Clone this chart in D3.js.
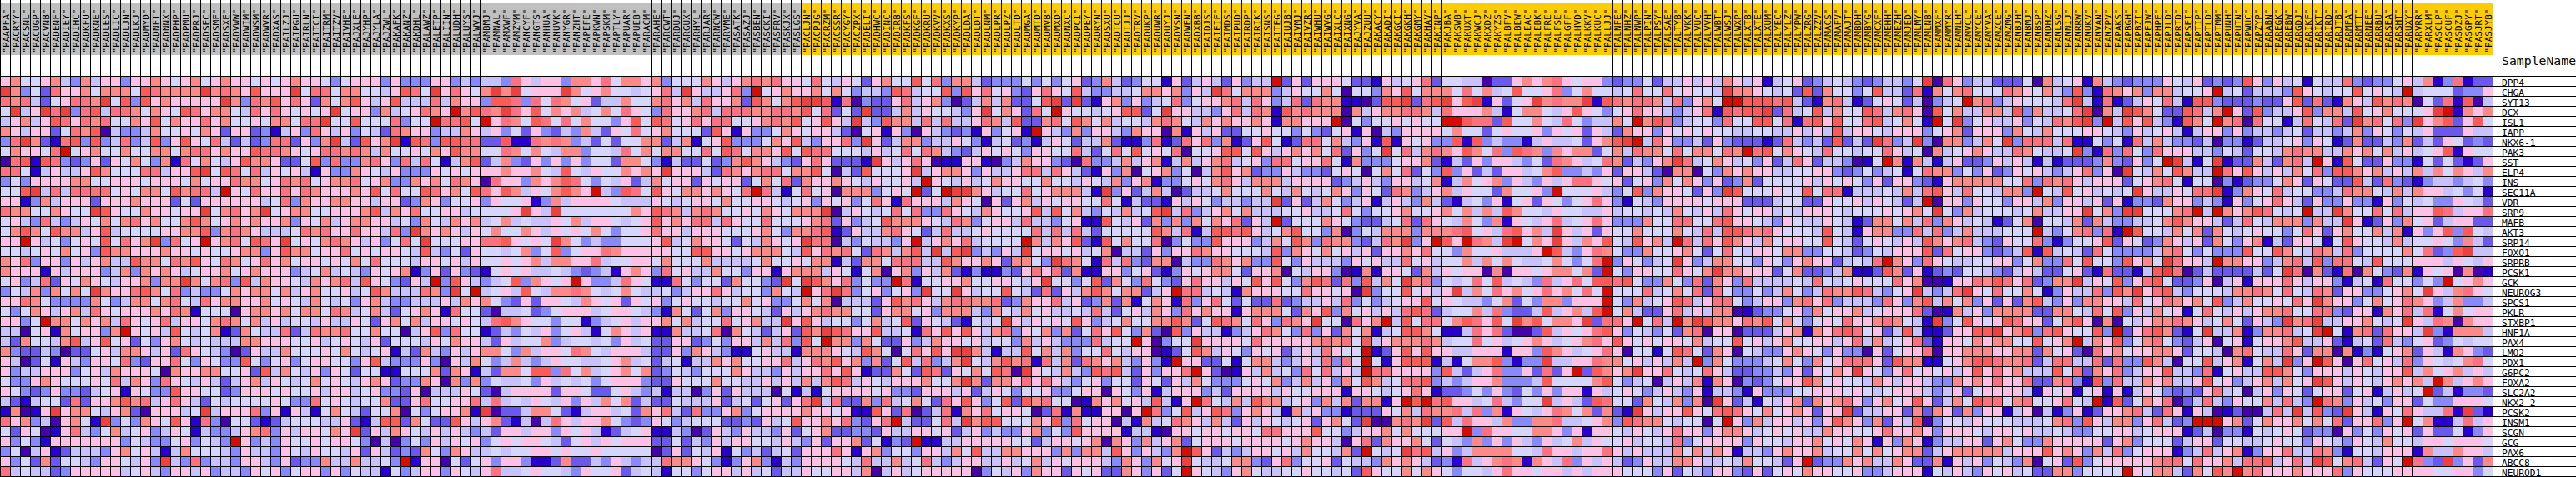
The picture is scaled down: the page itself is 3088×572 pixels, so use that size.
<!DOCTYPE html>
<html><head><meta charset="utf-8">
<style>html,body{margin:0;padding:0;background:#fff;overflow:hidden}svg{display:block}</style>
<script src="https://cdnjs.cloudflare.com/ajax/libs/d3/7.8.5/d3.min.js"></script>
</head><body><div id="chart"></div>
<script>
const controlSamples = "PAAPFA PACRYY PACSNL PACUGP PACVNB PADENF PADIEY PADIHC PADKFU PADKNE PADLES PADLIC PADLJN PADLKJ PADMYD PADNFT PADNNX PADPHP PADPMU PADPRJ PADSEC PADSMF PADSXE PADVWW PADWIM PADWSM PADWVR PADXAS PAILZJ PAIPGU PAIRLN PAITCI PAITRM PAITZV PAIVHE PAJXLE PAJYHP PAJYLA PAJZWL PAKAFK PAKANZ PAKDHL PALAWZ PALETP PALIIN PALUDH PALUYS PALWVJ PAMBMJ PAMNAL PAMXWF PAMZYM PANCYF PANGTS PANHUA PANUVK PANYGR PANZHT PAPEFE PAPKWN PAPSKM PAPTLY PAPUAR PAPUEB PARACM PARAHE PARCWT PARDUJ PARGUX PARHYL PARJAR PARNCW PARVME PASATK PASAZJ PASBEN PASCKI PASFRV PASKJX PASLGS".split(" ");
const caseSamples = "PACLJN PACPJG PACRZM PACSSR PACYGY PACZPX PADELI PADHWC PADINC PADIRB PADKFS PADKGF PADKRU PADKVV PADKXS PADKYP PADLDA PADLDT PADLNM PADLPR PADLPZ PADLTD PADMGA PADMTD PADMVB PADMXD PADNXC PADPCI PADPEY PADRYN PADSXU PADTCU PADTJJ PADTRV PADUKP PADUWR PADUYJ PADVSN PADWEN PADXBB PAIDJS PAIEIF PAIMDS PAIPUD PAIRDP PAIRIK PAISNS PAITEG PAIUJB PAIVMJ PAIVZR PAIWHU PAIWVG PAIXLC PAIXNG PAJYVA PAJZUU PAKACY PAKADI PAKGCI PAKGKH PAKGMY PAKHAV PAKINP PAKJBA PAKSWB PAKUXT PAKWCJ PAKXDZ PAKYZS PALBFV PALBEW PALEAC PALEBK PALFRE PALFSE PALGFF PALHVD PALKKV PALKUC PALLJJ PALNFE PALNHZ PALNWP PALPIN PALPSY PALSAE PALTYB PALVKK PALVUC PALVVH PALWBT PALWSJ PALWXP PALXTB PALXTE PALXUM PALYEC PALYLZ PALYPW PALZRG PALZZV PAMACS PAMAFV PAMAJT PAMBDH PAMBYG PAMCXF PAMEHH PAMEZH PAMJED PAMLMY PAMLNB PAMMXF PAMMYR PAMNLH PAMVCL PAMYCE PAMYVA PAMZCE PAMZMG PANBJH PANBMJ PANBSP PANDHZ PANLSG PANNIJ PANRRW PANUKV PANVAN PANZPV PAPAKS PAPBGH PAPBZI PAPEJW PAPHPE PAPJLD PAPRTD PAPSEI PAPTIP PAPTLD PAPTMM PAPUNH PAPUTN PAPWUC PAPZYP PARABN PAREGK PAREBW PARGDJ PARIKF PARIKT PARIRD PARJTB PARMFA PARMTT PARNEE PARRBU PARSEA PARSHT PARUXY PARVRR PARXLM PASCLP PASCUF PASDZJ PASGPY PASJRT PASJYB".split(" ");
const genes = ["DPP4","CHGA","SYT13","DCX","ISL1","IAPP","NKX6-1","PAK3","SST","ELP4","INS","SEC11A","VDR","SRP9","MAFB","AKT3","SRP14","FOXO1","SRPRB","PCSK1","GCK","NEUROG3","SPCS1","PKLR","STXBP1","HNF1A","PAX4","LMO2","PDX1","G6PC2","FOXA2","SLC2A2","NKX2-2","PCSK2","INSM1","SCGN","GCG","PAX6","ABCC8","NEUROD1"];
const levelKeys = "0123456789ab".split("");
const levelColors = ["#4500AD","#2700D1","#6B58EF","#8888FF","#C7C1FF","#D5D5FF","#FFC0E5","#FF8989","#FF7080","#FF5A5A","#EF4040","#D60C00"];
const expressionLevels = [
"6755674374663667656756766565676 6535666363336634344386466377685 7767355576467878665854652675595 8377423335353562374235516246426 344b262666522164568255440226767 8656632335244646476461456234543 234435a086344222507456174323336 54623239636451544832335647138122",
"a7352866757775987777a78769666a5 885775546985a68657a7a5666a75675 545684a644683b56766757534439845 5939685632686594334457767364a85 7773465575055376957775857459556 83575545855856554a7765452927553 5944281757855587657439318767377 4556b452444396545595654b45552336",
"8784256887a59396766666a73879686 2757964694448476639983858756244 755786748667297579aa91803226846 730247472259a2a2167363458356678 4863482877110299a289a69a16256a7 877a1987887483675bb999894217841 2565240345b7834655548a418124658 41993222322692821764978705281904",
"5a46a8a389488757659867754868656 56a56637456876b7987a86957674575 865386678488877887958252a224746 55436a576285b6554569925a6644368 4871978777074677887486667415775 469653568664346819899a284594755 9847860957447749374458a074a9752 29847b62934469377495675556ab1767",
"4674698687855769576686755657758 8a5595558355b8895b6875985857553 69598568688556787956964a4397748 4844687492278597574554787547676 676177666b0535565655bb988295575 48534475b798345538559958 1896955 8945751b5a356446354879a3b496943 1975b7808551485482a78583a6792695",
"7646625879043347556576266231463 8646354287663447646352632437426 5856755529616335765664205616306 4323163561b64373664376607164622 5565535325616043666657552565563 6562642766365656554455446464946 6546663567266637547555665436456 41466363443452443473653546222644",
"38a7218939348349369658424238826 37a42967a1983998822911878734252 557724715693335769436683a624773 4465314523146524472113812868371 2695128857436191656339193433146 4452679ab4863342632221284342924 2a834a30773475a3888481153518474 33240331244563651272243724265232",
"576658b567557557757886766988765 6887874755657697755875754773554 8575775585985776959885554645858 7432465653665584258595658055699 59646767582635a5847876975839873 7677257487758577587b89576548554 558645074567644875445a318385386 66443542554787744767574645691655",
"0891983236265753718575469776225 9383378638485147924732636363552 7753142252379764326862221a64686 0116610347663208334746714746784 5638856685173335667214263664352 876458724367a845764536248624430 15b717414622364641412223732635b a415a122742784b61952263315252126",
"88514644697555884669a5985846564 1633765463336565666766754954655 7676a666428767885779504295556a4 6776364468848642163705673504796 7233643325650575825393624266457 9334362664207705376766445566323 53451587735362365643468360a5475 9744b869646475839976746474757647",
"3536666775566656665756687756878 5677856733767587608663767985354 624756626566257582766765465564b 6546457665575546547367133565786 4777466662346436645714756736436 4688656256375763623725555646565 3626632167777755838786466625678 51550312335762652294283213443453",
"559a484888856577597884b65866868 7666769585598675986974657976b43 9859657767658b841585607773565b2 5baa7645585677741a3624740244575 5575475457636528734674655275563 b5556435937665263a9555655958814 44547489648554773b549564545a644 6588a137658455334877547476645351",
"6613746662666766625266666645837 6677664662376355636556137466665 4446545665755665456365635861866 6476506267465665585142216465344 344a262475346146437421453615626 5356863154366665666222455226556 465424b066365536647366462613327 66343163568642633633163545336542",
"877557655a9655766566a57867a5677 556667947685566455556a64a555555 57698747875565765777a0465458583 38654765569495743547459a4834675 7444556445853556755675747497554 6554464554547546486566454666545 5565675a53745554574466a573aa555 78b4b76798545b44a755858466984668",
"5643843465757867557975676766736 5746776645375476745745446574665 4569676884865585556782634597776 5487356648443561195462737375768 264b255576532245828654753716546 8456863337558855896654365446541 2775748376454125705547274334457 97664248547773744a61263756246622",
"5797597746945555667793787644458 7866866483a76764657557646565753 5568664666555675377891264478652 4844565555848484255555974814998 9645795537035477737778956489674 a646265575557548499878655549541 67733848347444555b43578381b9554 75727545655358626755747163693954",
"66b645356595867a3856b6785986a56 57876463585a555668896565a753433 555694576652547656a8804354436b4 676845555b747692195755803533966 6347597387732487a36b96b874ab576 a64769549674b848697647566559542 5654649767843265583135569265237 64627536714266515965547455653742",
"5545657563977666766565567736977 5668565665494352655457359356687 6666655996656777549687852874794 a49a34364a566564570442636687665 554937657564626676855375564446b 9436875337556752585466577335542 3546669285663234919454285333347 85353339559754874835555758239a44",
"7683663646744977587965875686756 6565758555466564655656747766845 5665755574444575565771427758884 497667627753a875184832770433876 7339536444365644856455747575445 75358b365345a634775536536766245 48b763865445566357338595539675a 8664b776634784938854955566646546",
"7666164666347376764566756766634 5745436567136263215656445432341 6763856447553661677746515706736 4721311326868271166356213656775 2667054663017166527465660706656 77572b5366558657a77666257223471 129726123255432464225621822149a 80242222425a80721807532716560701",
"563482657654667377a757839476654 767849653264b3964345937656b6334 8651185355275532a5a97683533b815 56675566546a5535927538532686646 5969537982839475a78354585945438 4685998953375382763844445485456 555867001668798682377a465936895 223604616668646631451855353b5676",
"354737575a766897583433576775746 75564597444873a5b45649547787545 754453466864553754b68a83563563a 55a645595428264797577246b884541 766655866560a35595646a475867568 67585b5558457582853353475348779 84356a4348a6585575136448397a689 4355547787585487266335675a647865",
"6687533337534775785486776675654 7545367433444647675326266547656 2656356554557563357570444269786 4788778237668462372715761836852 5228234464835345669565443572537 73666b5374569846885346637868344 4386379475736262794363776648568 76759347556586a76635756876347334",
"5357646748656667687155506776757 7587457425676185520445235666456 6543175257366542646787755267756 3777437547564454842564763867661 6777527693756464898245574832249 46749b5742268464770123356375667 4566682017463777722775485936475 61585464677855883266176848157566",
"6635b77576748656846657875746455 4644652675746656548976553551345 6466757455856744a69645535745926 5421545a64656596345755779725987 5863876a550867b495885798695a795 776a2886b584b7a9776879575356586 6787541a35965698662579607054677 87645752643a78a44667545a64870766",
"440561756637b656495457127544824 8778557550469385512435463564157 64611744580754246297a9866944518 6969647836573725869537209364413 4687538362757145997511486820029 4656896354352780660222467176898 5624941126699a67938965593b26897 215a4471377845ab517828664a317774",
"4275547946956253675454447766655 6456546255546576642645573455453 64522662353664748395b7737522634 76656455374643338455b60355a6666 5866666787859467778745585645676 4567869656566574559564675566468 474568216657677559567b476935785 32460561566794462145284356235455",
"7322430225647764628654302644755 5657545614274364677537466587546 6642263764311564417776549750586 96aa741449574735585466012597465 365624648655b126969664466616639 7645686055159852760543367653633 0625668066777667727562086756677 62554078544862770713156726417632",
"6402516436658326685365339535635 6655369433363064753474346554456 7452451447675566846879673725948 347a54797818472876743631b662251 577434648385b51699914157793133a 44668775646474b3753334575375688 8629771156799877824884482833974 05594671574a36b96068564836545785",
"6344666356476665076677556294754 6365255115557276142775993857456 7572354355576443646686961227529 826575980a6547439894263668b6201 647453858464b886666394246833628 26b29767a668545864223343626576a 6536856564696867444958276834669 44381564499753666465466947567464",
"5336765556584763865464246746545 7565467623376073735445364545356 6632265557554464647479846546667 557a727768686435635526526475333 5657347463759745889343466733349 5555795345046471760323566975655 4764664337676866822783193844767 44695634674756a96465467674b74676",
"6532363324561653396655236665655 6466456332604446520466662665225 6434144036264440514156666563326 6646246535563356606536146663426 6664655666166545686122353632536 3661645653464361443163335566656 5456664346256666416561561614653 2326845046365256625614645b241332",
"4214552826679784686425455556533 8565455722685566848454654636475 7242254446245256268a48227384575 28696359297855017675649416b8547 4977456374727716b9b89664584355a 4642985527547370a62415467276786 36756962475988578556854b1925768 02484365574843b87364536625336665",
"17016a67754672066645a4666836164 15754255705356671a0224775214664 5276842833673566667665611962802 481768566502817116606b835946983 6764174633122265748778483716546 87572721a64669658986575676266a2 4466272762736614604136126678428 616401200484a4932a64165864481a21",
"8673406751a35376596183055212455 5446214992752296467214048646675 323653455522326459667683268b422 584a799555769385660417458764742 646545626752a00787a294866473377 84456739877545505b6374664636976 3726490355465554445783964773684 23bbb672576675758266836b57114846",
"5265016843574563465143346783646 6576a26476546464342664663656412 4561143026436443625672233264466 5624634336735396666144106656656 6588666955346675755566b38665577 6361665465468663677645656447665 5686676366654665644543355664566 61240331545652330635365626225136",
"63531666666635433563543b6343655 6566530403536465635656654256465 66622524364665546436266725132b1 1446666655246656707637467256665 6666567664068276675254373636436 4574655645548356666365546675657 6163761344662675337666662673555 24662554456553654365475546656665",
"3504612444367564147555436443654 6554626423275376445455665655655 5550262546153424526668616735536 6475944776663737749636437b96243 466564755472b545a89463477775548 6646686464447574761443676674557 5756772467777746669676374835666 13484671366844873155466617447664",
"6352725543665463a43834436643623 374474453b166052563663112722436 4344877653136731436666548447458 4346644645746566643763756a54457 7326835562544376764231846787176 4836464236447764454755426b23376 7447622716463543705629356666678 85866748894684a95784265b832a3627",
"8454423666664564366463443656356 6363544153466365468445655436556 2454155356646452446556647046456 6666035463766265622763625b65436 7544556554529655757653554686656 6464666555362543663262565766556 33466615464365645227735555b6577 427597b7866676668365556666556635"
];
</script>
<script>
const samples = controlSamples.concat(caseSamples);
const W = 3088, H = 572, cell = 12, gridTop = 91;
const x = d3.scaleBand().domain(d3.range(samples.length)).range([0, cell * samples.length]);
const y = d3.scaleBand().domain(genes).range([gridTop, gridTop + cell * genes.length]);
const color = d3.scaleOrdinal(levelKeys, levelColors);
const grid = expressionLevels.map(r => r.replace(/\s/g, ""));
const svg = d3.select("#chart").append("svg").attr("width", W).attr("height", H)
  .attr("shape-rendering", "crispEdges");

svg.append("g").selectAll("rect").data(samples).join("rect")
  .attr("x", (d, i) => x(i)).attr("y", 3).attr("width", cell).attr("height", 63)
  .attr("fill", (d, i) => i < controlSamples.length ? "#C0C0C0" : "#FFCC00");

const cells = grid.flatMap((row, r) => row.split("").map((k, c) => ({ k, c, r })));
svg.append("g").selectAll("rect").data(cells).join("rect")
  .attr("x", d => x(d.c)).attr("y", d => y(genes[d.r]))
  .attr("width", cell).attr("height", cell).attr("fill", d => color(d.k));

const lines = svg.append("g").attr("stroke", "#000").attr("stroke-width", 1);
lines.selectAll(".v").data(d3.range(samples.length + 1)).join("line").attr("class", "v")
  .attr("x1", i => i * cell + .5).attr("x2", i => i * cell + .5).attr("y1", 0).attr("y2", H);
lines.selectAll(".h").data(d3.range(genes.length + 1)).join("line").attr("class", "h")
  .attr("y1", i => gridTop + i * cell + .5).attr("y2", i => gridTop + i * cell + .5).attr("x1", 0).attr("x2", W);

svg.append("g").attr("font-family", "'DejaVu Sans Mono', monospace").attr("font-size", 11)
  .attr("fill", "#000")
  .selectAll("text").data(samples).join("text")
  .attr("transform", (d, i) => `translate(${x(i) + 11},63.5) rotate(-90)`)
  .text(d => `"${d}"`);

svg.append("g").attr("font-family", "'DejaVu Sans Mono', monospace").attr("font-size", 11.2)
  .attr("fill", "#000")
  .selectAll("text").data(genes).join("text")
  .attr("x", 2999).attr("y", d => y(d) + 12).text(d => d);

svg.append("text").attr("x", 2999).attr("y", 78).attr("font-family", "'DejaVu Sans Mono', monospace")
  .attr("font-size", 14.8).attr("fill", "#000").text("SampleName");
</script>
</body></html>
